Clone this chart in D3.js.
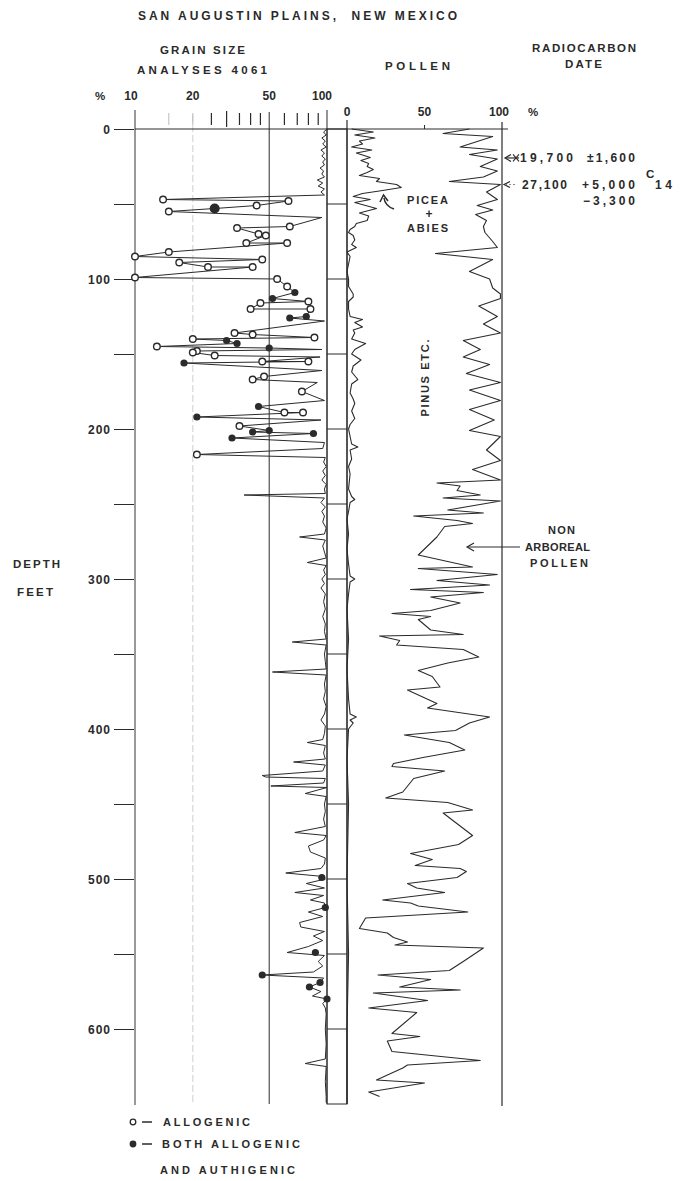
<!DOCTYPE html>
<html><head><meta charset="utf-8">
<script src="https://cdn.jsdelivr.net/npm/d3@7"></script>
<style>
body{margin:0;background:#fff;}
svg{display:block;}
text{font-family:"Liberation Sans",Arial,sans-serif;fill:#2a2a2a;}
</style></head><body>
<svg id="c" width="686" height="1181"></svg>
<script>
// ---------------- DATA ----------------
const depthTicks = [0,50,100,150,200,250,300,350,400,450,500,550,600];
const depthLabelValues = [0,100,200,300,400,500,600];
const grainMinorTicks = [15,20,25,30,35,40,45,60,70,80,90];
const grainLabelValues = [10,20,50,100];
const grainLabels = ["10","20","50","100"];
const pollenLabelValues = [0,50,100];
const pollenLabels = ["0","50","100"];
const columnBreaks = [50,100,150,200,250,300,350,400,450,500,550,600];

// grain size trace [depth ft, percent]
const grainTrace = [
 [0,100],[2,96],[4,99],[6,94],[8,98],[10,95],[12,99],[14,93],[16,97],[18,94],[20,98],[22,95],[24,97],[26,92],[28,96],[30,94],[32,97],[34,89],[36,95],[38,90],[40,97],[42,93],[44,97],
 [47,14],[48,63],[51,43],[53,26],[55,15],[59,94],[65,64],[66,34],[70,44],[71,48],[76,38],[76,62],[82,15],[85,10],[87,46],[89,17],[92,24],[92,41],[99,10],[100,55],[105,62],[109,68],[113,52],[115,80],[116,45],[120,40],[120,82],[125,78],[126,64],[128,97],[136,33],[137,41],[139,86],[140,20],[141,30],[143,34],[145,13],[146,50],[147,94],[148,21],[149,20],[151,26],[152,92],[155,46],[155,80],[156,18],[161,94],[165,47],[167,41],[169,89],[175,74],[181,97],[185,44],[189,60],[189,75],[192,21],[194,93],[198,35],[201,50],[202,41],[203,85],[206,32],[209,97],[213,95],[217,21],[219,98],
 [222,96],[225,99],[228,95],[231,98],[234,94],[237,99],[240,97],[243,98],[244,37],[246,97],[249,93],[252,98],[255,94],[258,97],[262,95],[266,99],[270,97],[272,72],[274,98],[278,95],[282,97],[286,99],[289,79],[291,99],[294,96],[297,98],[300,94],[303,97],[306,93],[310,98],[315,96],[320,98],[325,95],[330,98],[335,97],[340,99],[342,66],[344,99],[350,97],[355,98],[360,99],[362,52],[364,99],[370,97],[375,98],[380,96],[385,99],[390,97],[394,93],[398,98],[403,97],[407,95],[409,79],[411,98],[416,96],[420,98],[422,67],[424,98],[428,95],[431,46],[432,48],[433,98],[436,96],[438,51],[439,100],[443,77],[445,99],[450,97],[455,98],[460,96],[465,98],[469,68],[471,99],[474,96],[478,80],[482,82],[486,98],[490,97],[493,93],[496,61],[498,90],[500,98],[503,78],[506,97],[509,68],[511,96],[514,82],[516,97],[519,98],[522,80],[525,95],[529,72],[532,73],[535,97],[538,85],[541,95],[545,80],[549,62],[551,97],[555,90],[558,95],[562,85],[564,46],[566,96],[569,92],[572,81],[575,93],[578,84],[580,100],[583,95],[586,98],[590,99],[600,98],[610,99],[620,98],[623,77],[625,99],[635,98],[645,99],[649,99]
];
const allogenicPoints = [
 [47,14],[48,63],[51,43],[55,15],[65,64],[66,34],[70,44],[71,48],[76,38],[76,62],[82,15],[85,10],[87,46],[89,17],[92,24],[92,41],[99,10],[100,55],[105,62],[115,80],[116,45],[120,40],[120,82],[136,33],[137,41],[139,86],[140,20],[145,13],[148,21],[149,20],[151,26],[155,46],[155,80],[165,47],[167,41],[175,74],[189,60],[189,75],[198,35],[217,21]
];
const bothPoints = [
 [53,26],[109,68],[113,52],[125,78],[126,64],[141,30],[143,34],[146,50],[156,18],[185,44],[192,21],[201,50],[202,41],[203,85],[206,32],[499,94],[519,98],[549,87],[564,46],[569,92],[572,81],[580,100]
];

// pollen, percent of total [depth ft, percent]
const piceaAbies = [
 [0,3],[2,17],[4,5],[6,18],[8,8],[10,10],[12,3],[14,16],[16,6],[19,15],[21,9],[23,14],[25,13],[27,17],[29,13],[31,8],[33,21],[35,19],[37,32],[39,35],[41,23],[43,10],[45,4],[47,15],[49,5],[51,12],[53,19],[56,8],[58,14],[61,13],[63,6],[65,5],[67,2],[69,1],[71,4],[74,5],[77,3],[79,6],[82,0],[85,2],[90,1],[95,0],[100,1],[105,1],[110,4],[112,4],[115,1],[120,1],[125,2],[127,10],[129,5],[132,10],[134,4],[136,5],[140,3],[143,12],[147,5],[150,3],[154,9],[158,4],[162,3],[167,7],[170,3],[176,2],[180,4],[183,5],[188,3],[193,5],[197,2],[200,1],[205,2],[210,3],[212,7],[214,2],[220,3],[225,1],[230,2],[240,1],[245,3],[247,5],[249,2],[255,1],[260,0],[270,1],[280,0],[290,1],[298,2],[300,5],[302,2],[310,1],[320,0],[340,1],[360,0],[380,1],[390,2],[392,6],[394,2],[396,4],[400,1],[420,0],[450,1],[500,0],[550,1],[600,0],[650,0]
];
const pinusEtc = [
 [0,79],[3,62],[5,94],[12,73],[14,97],[17,79],[20,97],[25,86],[28,97],[32,88],[35,66],[37,99],[42,90],[47,97],[51,84],[54,94],[57,83],[61,90],[65,88],[69,89],[75,94],[79,97],[83,57],[87,94],[95,79],[100,92],[106,94],[110,99],[113,99],[118,85],[125,97],[130,88],[136,99],[141,75],[147,86],[152,75],[157,92],[163,77],[169,99],[174,79],[181,99],[187,79],[194,95],[201,79],[205,99],[214,90],[221,99],[227,81],[234,99],[236,58],[238,73],[241,71],[244,86],[246,62],[248,99],[254,65],[256,88],[258,43],[261,71],[263,81],[265,63],[272,58],[276,54],[284,46],[292,81],[293,46],[297,97],[301,58],[304,92],[307,41],[309,88],[312,54],[316,73],[321,54],[323,29],[325,54],[327,46],[334,54],[337,75],[338,21],[341,34],[344,32],[347,75],[352,85],[356,65],[361,46],[365,55],[372,60],[374,39],[383,58],[386,52],[392,92],[396,79],[401,70],[404,37],[409,66],[414,76],[419,49],[423,30],[425,29],[428,63],[433,43],[442,36],[446,25],[449,65],[454,81],[456,62],[471,81],[477,72],[483,41],[487,55],[491,44],[493,73],[495,77],[499,71],[503,39],[506,45],[509,63],[514,23],[516,41],[518,46],[522,78],[526,12],[533,8],[536,26],[539,30],[542,39],[544,31],[546,88],[555,75],[561,66],[564,20],[567,54],[572,34],[574,73],[576,17],[581,52],[586,14],[589,45],[603,29],[605,47],[608,26],[615,29],[621,86],[624,39],[626,36],[634,19],[636,50],[642,14],[645,21]
];

// ---------------- CHART ----------------
const svg = d3.select("#c");
const ink = "#2b2b2b";
const y  = d3.scaleLinear().domain([0,650]).range([129,1104]);
const xg = d3.scaleLog().domain([10,100]).range([135,327]);
const xp = d3.scaleLinear().domain([0,100]).range([347,502]);

function txt(s, x, yy, o={}) {
  const t = svg.append("text").attr("x", x).attr("y", yy).text(s)
    .style("font-size", (o.size||11.5)+"px")
    .style("font-weight", o.weight||"bold");
  if (o.len) t.attr("textLength", o.len).attr("lengthAdjust","spacing");
  if (o.anchor) t.attr("text-anchor", o.anchor);
  return t;
}
function vline(x, y1, y2, o={}) {
  return svg.append("line").attr("x1",x).attr("x2",x).attr("y1",y1).attr("y2",y2)
    .attr("stroke", o.color||ink).attr("stroke-width", o.w||1).attr("stroke-dasharray", o.dash||null);
}
function hline(y0, x1, x2, o={}) {
  return svg.append("line").attr("x1",x1).attr("x2",x2).attr("y1",y0).attr("y2",y0)
    .attr("stroke", o.color||ink).attr("stroke-width", o.w||1);
}

// headers
txt("SAN AUGUSTIN PLAINS,  NEW MEXICO", 138, 20, {len:319, size:12}).style("white-space","pre");
txt("GRAIN SIZE", 160, 54, {len:85});
txt("ANALYSES 4061", 137, 74, {len:130});
txt("POLLEN", 385, 70, {len:65});
txt("RADIOCARBON", 532, 52, {len:104});
txt("DATE", 565, 68, {len:37});
txt("DEPTH", 13, 568, {len:47});
txt("FEET", 17, 596, {len:36});

// grain size frame
vline(xg(10), 110, y(650)+1, {color:"#555", w:1.2});
vline(xg(20), 115, y(650), {color:"#d0d0d0", w:1, dash:"7,3"});
vline(xg(50), 112, y(650), {w:1});
vline(xg(100), 110, y(650), {w:1});
hline(y(0), xg(10), xp(100)+6, {w:1});

// depth axis
const axL = d3.axisLeft(y).tickValues(depthTicks).tickSize(20).tickPadding(3)
  .tickFormat(d => depthLabelValues.includes(d) ? d : "");
const ga = svg.append("g").attr("transform", `translate(${xg(10)-1},0)`).call(axL);
ga.select(".domain").remove();
ga.selectAll("line").attr("stroke", ink).attr("stroke-width", 1);
ga.selectAll("text").style("font-size","12px").style("letter-spacing","1px").style("font-weight","bold")
  .style("font-family","Liberation Sans, Arial, sans-serif").attr("fill", ink).attr("dy","0.36em");

// grain top ticks and labels
grainMinorTicks.forEach(v => {
  const faint = v <= 20;
  const long = (v === 30);
  vline(xg(v), long ? 111 : 113, long ? 127 : 125, {color: faint ? "#bbb" : ink, w: faint ? 1 : 1.2});
});
txt("%", 100, 100, {size:11.5, anchor:"middle"});
const gLabOff = [-4, 0, 0, -5];
grainLabelValues.forEach((v,i) => txt(grainLabels[i], xg(v)+gLabOff[i], 100, {size:12, anchor:"middle"}));

// sediment column
svg.append("rect").attr("x", xg(100)).attr("y", y(0)).attr("width", xp(0)-xg(100)).attr("height", y(650)-y(0))
  .attr("fill","none").attr("stroke", ink).attr("stroke-width",1);
columnBreaks.forEach(d => hline(y(d), xg(100), xp(0), {w:1}));

// pollen frame
vline(xp(0), 120, y(650), {w:1.2});
vline(xp(100), 122, y(650)+2, {w:1.2});
vline(xp(50), 125, y(0), {w:1});
pollenLabelValues.forEach((v,i) => txt(pollenLabels[i], xp(v)+(i===2?-3:0), 116, {size:12, anchor:"middle"}));
txt("%", 533, 116, {size:11.5, anchor:"middle"});

// curves
const lineG = d3.line().x(d => xg(d[1])).y(d => y(d[0]));
const lineP = d3.line().x(d => xp(d[1])).y(d => y(d[0]));
svg.append("path").attr("d", lineG(grainTrace)).attr("fill","none").attr("stroke", ink).attr("stroke-width",1).attr("stroke-linejoin","round");
svg.append("path").attr("d", lineP(piceaAbies)).attr("fill","none").attr("stroke", ink).attr("stroke-width",1.1).attr("stroke-linejoin","round");
svg.append("path").attr("d", lineP(pinusEtc)).attr("fill","none").attr("stroke", ink).attr("stroke-width",1.1).attr("stroke-linejoin","round");

// points
svg.append("g").selectAll("circle").data(allogenicPoints).join("circle")
  .attr("cx", d => xg(d[1])).attr("cy", d => y(d[0])).attr("r", 3.3)
  .attr("fill","#fff").attr("stroke", ink).attr("stroke-width",1.4);
svg.append("g").selectAll("circle").data(bothPoints).join("circle")
  .attr("cx", d => xg(d[1])).attr("cy", d => y(d[0])).attr("r", (d,i) => i===0 ? 5 : 3.6)
  .attr("fill", ink);

// pollen annotations
txt("PICEA", 407, 204, {len:41, size:11});
txt("+", 429, 218, {size:12, anchor:"middle"});
txt("ABIES", 407, 232, {len:41, size:11});
svg.append("path").attr("d","M394,209 Q385,206 384,198").attr("fill","none").attr("stroke",ink).attr("stroke-width",1.5);
svg.append("path").attr("d","M380,202 L383.5,195 L388,201").attr("fill","none").attr("stroke",ink).attr("stroke-width",1.5);

txt("PINUS ETC.", 0, 0, {len:77, size:11}).attr("text-anchor","middle")
  .attr("transform","translate(429,378) rotate(-90)");

txt("NON", 548, 534, {len:27, size:11});
txt("ARBOREAL", 525, 551, {len:65, size:11});
txt("POLLEN", 530, 567, {len:58, size:11});
hline(547, 468, 520, {w:1});
svg.append("path").attr("d","M474,543 L467,547 L474,551").attr("fill","none").attr("stroke",ink).attr("stroke-width",1.2);

// radiocarbon
txt("19,700", 520, 162, {len:53, size:12});
txt("±1,600", 587, 162, {len:48, size:12});
txt("27,100", 522, 189, {len:45, size:12});
txt("+5,000", 582, 189, {len:53, size:12});
txt("−3,300", 583, 205, {len:52, size:12});
txt("C", 646, 178, {size:11.5});
txt("14", 655, 189, {len:17, size:12});
const yr1 = y(19.3), yr2 = y(37);
hline(yr1, 506, 519, {w:1.2});
svg.append("path").attr("d",`M511,${yr1-3.5} L505,${yr1} L511,${yr1+3.5}`).attr("fill","none").attr("stroke",ink).attr("stroke-width",1.2);
svg.append("path").attr("d",`M513,${yr1-3.5} L519,${yr1+3.5} M513,${yr1+3.5} L519,${yr1-3.5}`).attr("fill","none").attr("stroke",ink).attr("stroke-width",1.1);
svg.append("path").attr("d",`M510,${yr2-3} L504,${yr2} L510,${yr2+3}`).attr("fill","none").attr("stroke",ink).attr("stroke-width",1.2);
hline(yr2, 505, 515, {w:1, color:"#888"}).attr("stroke-dasharray","2,2");

// legend
svg.append("circle").attr("cx",133).attr("cy",1122).attr("r",2.8).attr("fill","#fff").attr("stroke",ink).attr("stroke-width",1.3);
hline(1122, 142, 152, {w:1.5});
txt("ALLOGENIC", 163, 1126, {len:87, size:11});
svg.append("circle").attr("cx",133).attr("cy",1144).attr("r",3.4).attr("fill",ink);
hline(1144, 142, 152, {w:1.5});
txt("BOTH ALLOGENIC", 162, 1148, {len:138, size:11});
txt("AND AUTHIGENIC", 160, 1174, {len:135, size:11});
</script>
</body></html>
